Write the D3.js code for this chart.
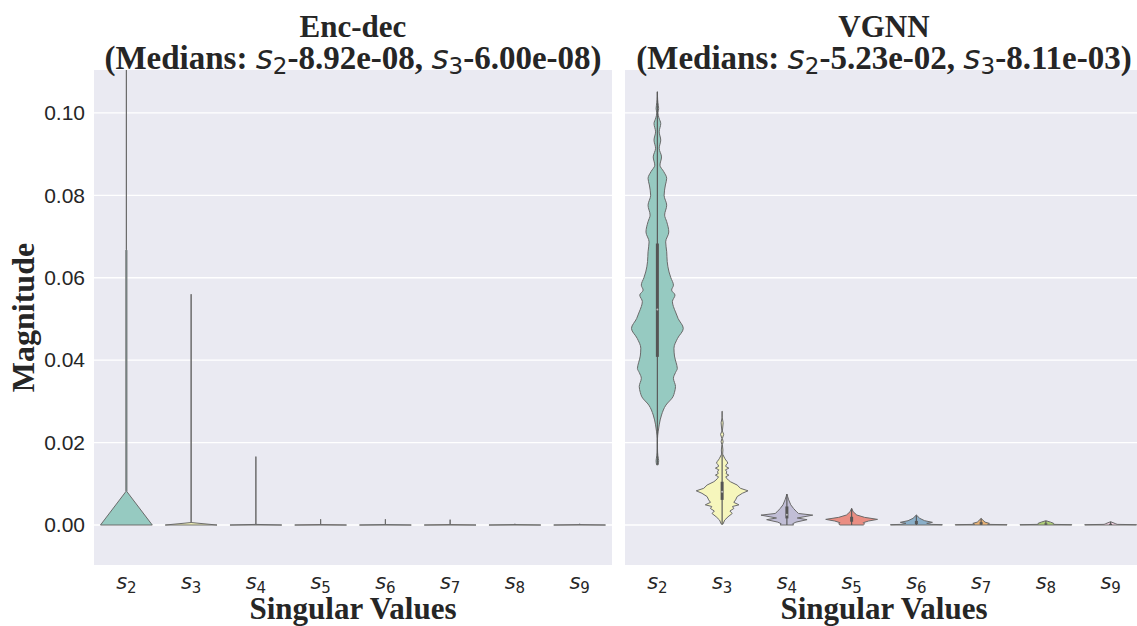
<!DOCTYPE html>
<html lang="en">
<head>
<meta charset="UTF-8">
<title>Singular values</title>
<script src="https://cdn.jsdelivr.net/npm/d3@7"></script>
<style>
  body { margin: 0; background: #fff; }
  svg text { fill: #262626; }
</style>
</head>
<body>
<div id="chart"></div>
<script>
// categories are s2 ... s9 (only the subscript is stored)
const categories = ["2", "3", "4", "5", "6", "7", "8", "9"];
const panelNames = ["Enc-dec", "VGNN"];
const panelMedians = [["8.92e-08", "6.00e-08"], ["5.23e-02", "8.11e-03"]];
const yTicks = [0, 0.02, 0.04, 0.06, 0.08, 0.10];
// Set3, desaturated like seaborn does it
const palette = ["#96cac1", "#f6f6bc", "#c1bed6", "#ea8e83", "#8aafc9", "#eab375", "#afcf78", "#f6d3e5"];

// violin outlines: [magnitude, relative half width]
const encDecProfiles = [
  [[0, 1.0], [0.0081, 0.02], [0.0667, 0.02], [0.0668, 0], [0.115, 0]],
  [[0, 1.0], [0.0006, 0], [0.056, 0]],
  [[0, 1.0], [0.00015, 0], [0.0166, 0]],
  [[0, 1.0], [0.0001, 0], [0.0014, 0]],
  [[0, 1.0], [0.0001, 0], [0.0014, 0]],
  [[0, 1.0], [0.0001, 0], [0.0013, 0]],
  [[0, 1.0], [0.0001, 0], [0.0003, 0]],
  [[0, 1.0], [0.0001, 0], [0.0003, 0]]
];
const vgnnProfiles = [
  [[0.0146, 0.03], [0.0156, 0.05], [0.0168, 0.02], [0.0185, 0.005], [0.0210, 0.005], [0.0226, 0.03],
   [0.0243, 0.07], [0.0267, 0.16], [0.0291, 0.33], [0.0311, 0.6], [0.0322, 0.66], [0.0336, 0.70],
   [0.0356, 0.62], [0.0370, 0.70], [0.0380, 0.77], [0.0395, 0.72], [0.0410, 0.66], [0.0429, 0.64],
   [0.0453, 0.78], [0.0477, 1.0], [0.0501, 0.80], [0.0517, 0.70], [0.0530, 0.62], [0.0542, 0.58],
   [0.0558, 0.68], [0.0570, 0.55], [0.0582, 0.62], [0.0600, 0.52], [0.0614, 0.45], [0.0639, 0.38],
   [0.0663, 0.36], [0.0687, 0.32], [0.0711, 0.44], [0.0736, 0.36], [0.0752, 0.28], [0.0776, 0.36],
   [0.0800, 0.26], [0.0825, 0.31], [0.0841, 0.36], [0.0858, 0.24], [0.0873, 0.10], [0.0893, 0.16],
   [0.0914, 0.07], [0.0934, 0.13], [0.0954, 0.07], [0.0974, 0.13], [0.0988, 0.06], [0.1000, 0.02],
   [0.1010, 0.05], [0.1025, 0.02], [0.1040, 0.005], [0.1051, 0.005]],
  [[0.0002, 0.03], [0.0012, 0.10], [0.0020, 0.23], [0.0028, 0.39], [0.0034, 0.30], [0.0040, 0.45],
   [0.0045, 0.40], [0.0049, 0.65], [0.0055, 0.45], [0.0061, 0.52], [0.0069, 0.58], [0.0077, 0.78],
   [0.0083, 1.0], [0.0089, 0.71], [0.0097, 0.58], [0.0105, 0.32], [0.0109, 0.24], [0.0113, 0.18],
   [0.0117, 0.14], [0.0121, 0.26], [0.0125, 0.15], [0.0129, 0.18], [0.0134, 0.13], [0.0138, 0.26],
   [0.0142, 0.14], [0.0146, 0.15], [0.0150, 0.22], [0.0154, 0.19], [0.0158, 0.14], [0.0162, 0.10],
   [0.0172, 0.02], [0.0182, 0.03], [0.0195, 0.01], [0.0202, 0.04], [0.0210, 0.01], [0.0220, 0.06],
   [0.0228, 0.01], [0.0248, 0.04], [0.0260, 0.005], [0.0276, 0.005]],
  [[0, 0.26], [0.0003, 0.22], [0.0007, 0.35], [0.0013, 0.78], [0.0017, 0.40], [0.0024, 1.0],
   [0.0028, 0.45], [0.0032, 0.38], [0.0040, 0.26], [0.0049, 0.15], [0.0061, 0.07], [0.0069, 0.03], [0.0075, 0]],
  [[0, 0.45], [0.00024, 0.5], [0.00057, 0.45], [0.00097, 0.65], [0.00137, 1.0], [0.00186, 0.5],
   [0.00243, 0.2], [0.00323, 0.06], [0.00404, 0]],
  [[0, 1.0], [0.00008, 1.0], [0.00016, 0.6], [0.0004, 0.4], [0.00065, 0.62], [0.00105, 0.32], [0.00162, 0.13], [0.00243, 0]],
  [[0, 1.0], [0.00008, 1.0], [0.00016, 0.25], [0.0004, 0.32], [0.0007, 0.15], [0.0016, 0]],
  [[0, 1.0], [0.00008, 1.0], [0.00016, 0.3], [0.0004, 0.30], [0.0007, 0.18], [0.00105, 0]],
  [[0, 1.0], [0.00008, 1.0], [0.00016, 0.25], [0.0003, 0.2], [0.0008, 0]]
];

// inner box: [q1, median, q3, whisker low, whisker high]
const encDecBoxes = [
  [0, 8.92e-8, 3e-7, 0, 1e-6], [0, 6.0e-8, 2e-7, 0, 1e-6], [0, 3e-8, 1e-7, 0, 1e-6], [0, 2e-8, 1e-7, 0, 1e-6],
  [0, 2e-8, 1e-7, 0, 1e-6], [0, 1e-8, 1e-7, 0, 1e-6], [0, 1e-8, 1e-7, 0, 1e-6], [0, 1e-8, 1e-7, 0, 1e-6]
];
const vgnnBoxes = [
  [0.0408, 0.0523, 0.0683, 0.0146, 0.1051],
  [0.0061, 0.0081, 0.0105, 0.0002, 0.0171],
  [0.0016, 0.0025, 0.0045, 0, 0.0075],
  [0.0008, 0.0013, 0.0020, 0, 0.0040],
  [0.0002, 0.0005, 0.0010, 0, 0.0024],
  [0.0001, 0.0003, 0.0007, 0, 0.0016],
  [0.0001, 0.0002, 0.0004, 0, 0.0010],
  [0.0000, 0.0001, 0.0003, 0, 0.0008]
];

const width = 1137, height = 626;
const plotTop = 70, plotBottom = 565, panelW = 518;
const panelX = [94, 625];

const svg = d3.select("#chart").append("svg")
  .attr("width", width).attr("height", height);

const y = d3.scaleLinear().domain([-0.0097, 0.1104]).range([plotBottom, plotTop]);

const panels = [
  { profiles: encDecProfiles, boxes: encDecBoxes },
  { profiles: vgnnProfiles, boxes: vgnnBoxes }
];

panels.forEach((p, pi) => {
  const x0 = panelX[pi];
  const x = d3.scaleBand().domain(categories).range([x0, x0 + panelW]);
  const half = d3.scaleLinear().domain([0, 1]).range([0, x.bandwidth() * 0.4]);
  const cx = c => x(c) + x.bandwidth() / 2;

  svg.append("clipPath").attr("id", "clip" + pi)
    .append("rect").attr("x", x0).attr("y", plotTop).attr("width", panelW).attr("height", plotBottom - plotTop);

  svg.append("rect").attr("x", x0).attr("y", plotTop).attr("width", panelW).attr("height", plotBottom - plotTop)
    .attr("fill", "#eaeaf2");

  // grid
  svg.append("g").selectAll("line").data(yTicks).join("line")
    .attr("x1", x0).attr("x2", x0 + panelW)
    .attr("y1", d => y(d)).attr("y2", d => y(d))
    .attr("stroke", "#fff").attr("stroke-width", 1.3);

  const g = svg.append("g").attr("clip-path", `url(#clip${pi})`);

  categories.forEach((c, i) => {
    const prof = p.profiles[i];
    // the big VGNN violin has smooth bulges, the rest are jagged
    const curve = (pi === 1 && i === 0) ? d3.curveMonotoneY : d3.curveLinear;
    const area = d3.area()
      .curve(curve)
      .y(d => y(d[0]))
      .x0(d => cx(c) - half(d[1]))
      .x1(d => cx(c) + half(d[1]));
    g.append("path").datum(prof)
      .attr("d", area)
      .attr("fill", palette[i])
      .attr("stroke", "#6a6a6a")
      .attr("stroke-width", 1)
      .attr("stroke-linejoin", "round");

    const b = p.boxes[i];
    g.append("line")
      .attr("x1", cx(c)).attr("x2", cx(c))
      .attr("y1", y(b[3])).attr("y2", y(b[4]))
      .attr("stroke", "#5a5a5a").attr("stroke-width", 1.2);
    g.append("line")
      .attr("x1", cx(c)).attr("x2", cx(c))
      .attr("y1", y(b[0])).attr("y2", y(b[2]))
      .attr("stroke", "#555").attr("stroke-width", 3);
    if (pi === 1 && i < 3) {
      g.append("circle").attr("cx", cx(c)).attr("cy", y(b[1])).attr("r", 1).attr("fill", "#fff")
        .attr("opacity", 0.6);
    }
  });

  // x tick labels: s with subscript
  const xt = svg.append("g").selectAll("text").data(categories).join("text")
    .attr("x", d => cx(d)).attr("y", 589)
    .attr("text-anchor", "middle");
  xt.append("tspan").attr("font-family", "DejaVu Sans").attr("font-style", "oblique")
    .attr("font-size", 21).text("s");
  xt.append("tspan").attr("font-family", "DejaVu Sans").attr("font-size", 15)
    .attr("dy", 4).text(d => d);

  // x label
  svg.append("text").attr("x", x0 + panelW / 2).attr("y", 619)
    .attr("text-anchor", "middle")
    .attr("font-family", "Liberation Serif").attr("font-weight", "bold").attr("font-size", 31)
    .text("Singular Values");

  // title
  svg.append("text").attr("text-anchor", "middle").attr("x", x0 + panelW / 2).attr("y", 37)
    .attr("font-family", "Liberation Serif").attr("font-weight", "bold").attr("font-size", 31)
    .text(panelNames[pi]);
  const l2 = svg.append("text").attr("text-anchor", "middle").attr("x", x0 + panelW / 2).attr("y", 69)
    .attr("font-family", "Liberation Serif").attr("font-weight", "bold").attr("font-size", 33);
  l2.append("tspan").text("(Medians: ");
  [0, 1].forEach(k => {
    l2.append("tspan").attr("font-family", "DejaVu Sans").attr("font-style", "oblique")
      .attr("font-weight", "normal").text("s");
    l2.append("tspan").attr("font-family", "DejaVu Sans").attr("font-weight", "normal")
      .attr("font-size", 23).attr("dy", 5).text(categories[k]);
    l2.append("tspan").attr("dy", -5).text("-" + panelMedians[pi][k] + (k === 0 ? ", " : ")"));
  });
});

// y axis on the left panel only
const yAxis = svg.append("g").attr("transform", `translate(${panelX[0]},0)`)
  .call(d3.axisLeft(y).tickValues(yTicks).tickFormat(d3.format(".2f")).tickSize(0).tickPadding(9));
yAxis.select(".domain").remove();
yAxis.selectAll("text").attr("font-family", "Liberation Sans").attr("font-size", 21).attr("fill", "#262626");

svg.append("text")
  .attr("transform", `translate(34,${(plotTop + plotBottom) / 2}) rotate(-90)`)
  .attr("text-anchor", "middle")
  .attr("font-family", "Liberation Serif").attr("font-weight", "bold").attr("font-size", 32)
  .text("Magnitude");
</script>
</body>
</html>
